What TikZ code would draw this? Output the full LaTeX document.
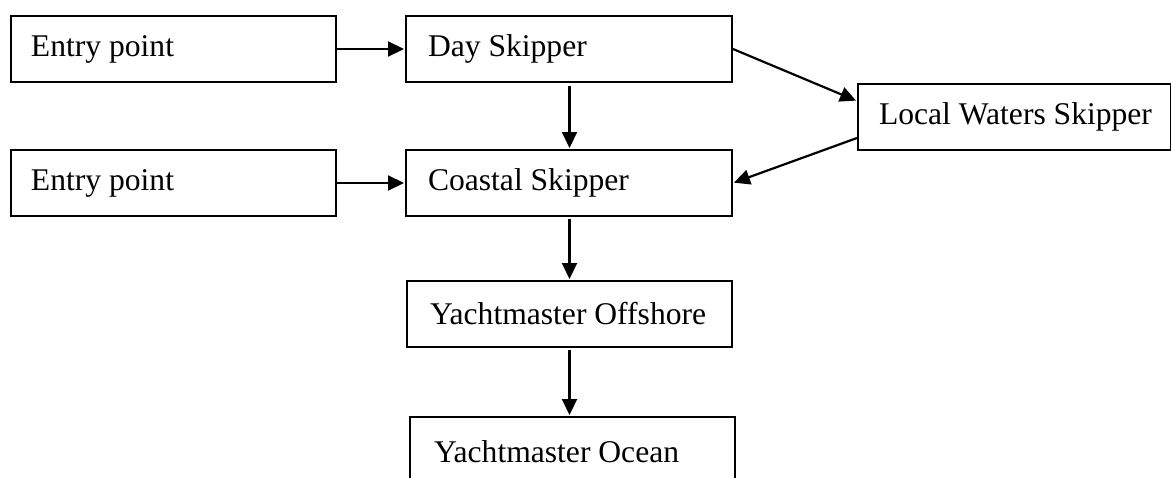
\documentclass[tikz,border=0pt]{standalone}
\usepackage{fontspec}
\setmainfont{Liberation Serif}
\usetikzlibrary{arrows.meta}
\newcommand{\bxtext}[3]{\makebox[#1][l]{\hspace*{#2}#3}}
\begin{document}
\begin{tikzpicture}[x=1pt,y=-1pt,
  box/.style={draw, line width=2pt, anchor=north west, minimum height=66pt,
    inner sep=0pt, font=\fontsize{31.6pt}{36pt}\selectfont},
  conn/.style={line width=2.2pt, -{Triangle[length=16pt,width=15pt]}, shorten >=1pt}]
\useasboundingbox (0,0) rectangle (1171,477);
\clip (0,0) rectangle (1171,477);
\node[box] (e1) at (10,15) {\bxtext{325pt}{20pt}{Entry point}};
\node[box] (e2) at (10,149) {\bxtext{325pt}{20pt}{Entry point}};
\node[box] (day) at (405,15) {\bxtext{326pt}{22pt}{Day Skipper}};
\node[box] (coast) at (405,149) {\bxtext{326pt}{22pt}{Coastal Skipper}};
\node[box] (local) at (857,83) {\bxtext{313pt}{21pt}{Local Waters Skipper}};
\node[box] (off) at (406,280) {\bxtext{325pt}{23pt}{Yachtmaster Offshore}};
\node[box, minimum height=70pt] (ocean) at (409,416) {\bxtext{325pt}{24pt}{Yachtmaster Ocean}};
\draw[conn] (e1.east) -- (day.west);
\draw[conn] (e2.east) -- (coast.west);
\draw[conn, shorten <=3pt] (day.south -| off.north) -- (coast.north -| off.north);
\draw[conn, shorten <=2pt] (coast.south -| off.north) -- (off.north);
\draw[conn, shorten <=2pt] (off.south) -- (ocean.north -| off.south);
\draw[conn] (day.east) -- ([yshift=16pt]local.west);
\draw[conn] ([yshift=-21pt]local.west) -- (coast.east);
\end{tikzpicture}
\end{document}
